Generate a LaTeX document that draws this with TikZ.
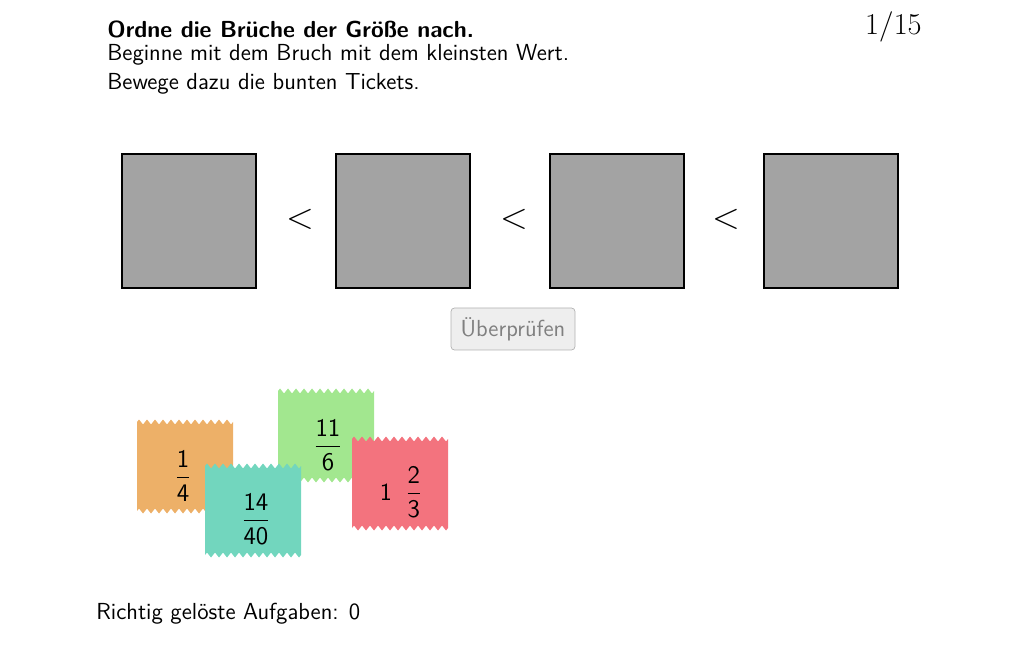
\documentclass[tikz,border=0pt]{standalone}
\usepackage{tikz}
\usetikzlibrary{decorations.pathmorphing}
\definecolor{slotgray}{HTML}{A3A3A3}
\definecolor{tkorange}{HTML}{EDB068}
\definecolor{tkgreen}{HTML}{A2E78F}
\definecolor{tkteal}{HTML}{72D6BE}
\definecolor{tkred}{HTML}{F3737E}
\newcommand{\txtsize}{\fontsize{13.2}{16}\selectfont\sffamily}
\newcommand{\tfrac}[2]{$\displaystyle\frac{\mathsf{#1}}{\mathsf{#2}}$}
% ticket: left x, top y, colour
\newcommand{\ticket}[3]{%
  \fill [#3] (#1,#2+89) -- (#1,#2)
    decorate [decoration={zigzag, segment length=8*0.02cm, amplitude=0.05cm}] { -- (#1+96,#2) }
    -- (#1+96,#2+89)
    decorate [decoration={zigzag, segment length=8*0.02cm, amplitude=0.05cm}] { -- (#1,#2+89) }
    -- cycle;}

\begin{document}
\begin{tikzpicture}[x=0.02cm,y=-0.02cm,
  slot/.style={draw, line width=1.3pt, fill=slotgray},
  lt/.style={font=\fontsize{20}{20}\selectfont},
  txt/.style={anchor=west, inner sep=0pt, font=\txtsize},
  frac/.style={font=\fontsize{14}{16}\selectfont\sffamily}]
\useasboundingbox (0,0) rectangle (1032,645);
\node [txt] (title) at (107,29) {\textbf{Ordne die Brüche der Größe nach.}};
\node [txt] (line1) at (107,55) {Beginne mit dem Bruch mit dem kleinsten Wert.};
\node [txt] (line2) at (107,84) {Bewege dazu die bunten Tickets.};
\node [anchor=east, inner sep=0pt, font=\fontsize{17}{17}\selectfont] (count) at (922,27) {$1/15$};

\draw [slot] (122,154) rectangle (256,288);
\draw [slot] (336,154) rectangle (470,288);
\draw [slot] (550,154) rectangle (684,288);
\draw [slot] (764,154) rectangle (898,288);
\node [lt] (lt1) at (300,219) {$<$};
\node [lt] (lt2) at (514,219) {$<$};
\node [lt] (lt3) at (726,219) {$<$};

\draw [gray!60, fill=gray!13, rounded corners=2pt] (451,308) rectangle (575,350);
\node [font=\txtsize, text=gray] (check) at (513,329) {Überprüfen};

\ticket{137}{422}{tkorange}
\node [frac] (t1) at (183,476) {\tfrac{1}{4}};
\ticket{278}{391}{tkgreen}
\node [frac] (t2) at (328,445) {\tfrac{11}{6}};
\ticket{205}{466}{tkteal}
\node [frac] (t3) at (256,519) {\tfrac{14}{40}};
\ticket{352}{439}{tkred}
\node [frac] (t4) at (401,492) {1\;\;\tfrac{2}{3}};

\node [anchor=west, inner sep=0pt, font=\txtsize] (score) at (96,614) {Richtig gelöste Aufgaben: 0};
\end{tikzpicture}
\end{document}
